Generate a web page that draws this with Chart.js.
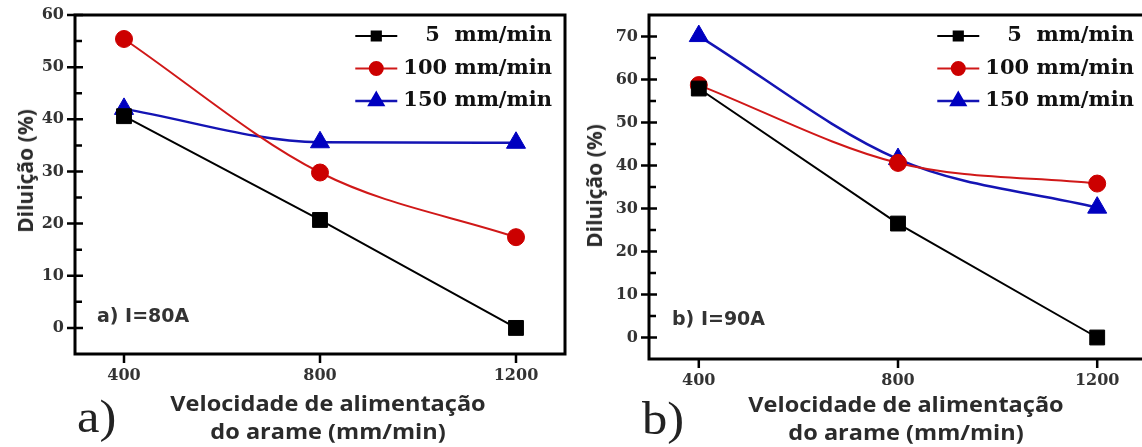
<!DOCTYPE html>
<html>
<head>
<meta charset="utf-8">
<script src="https://cdn.jsdelivr.net/npm/chart.js@4"></script>
<style>
  html, body { margin: 0; padding: 0; background: #fff; overflow: hidden; }
  body { width: 1142px; height: 447px; position: relative; }
  canvas { position: absolute; top: 0; }
  .txt { position: absolute; white-space: nowrap; color: #2b2b2b; }
  .ytitle { font: bold 21px "Open Sans", sans-serif; transform: translate(-50%, -50%) rotate(-90deg); }
  .xtitle { font: bold 21px "Open Sans", sans-serif; transform: translate(-50%, -50%) scaleX(1.12); text-align: center; line-height: 28px; }
  .cond { font: bold 19px "DejaVu Sans", sans-serif; transform: translateY(-50%); color: #333; }
  .tag { font: 46px "Liberation Serif", serif; transform: translateY(-50%) scaleX(1.1); transform-origin: left center; color: #222; }
</style>
</head>
<body>
<canvas id="chartA" width="580" height="447" style="left:0;"></canvas>
<canvas id="chartB" width="573" height="447" style="left:574px;"></canvas>

<div class="txt ytitle" style="left:25px; top:171px;">Diluição (%)</div>
<div class="txt ytitle" style="left:594px; top:186px;">Diluição (%)</div>
<div class="txt xtitle" style="left:328px; top:417px;">Velocidade de alimentação<br>do arame (mm/min)</div>
<div class="txt xtitle" style="left:906px; top:418px;">Velocidade de alimentação<br>do arame (mm/min)</div>
<div class="txt cond" style="left:97px; top:315px;">a) I=80A</div>
<div class="txt cond" style="left:672px; top:318px;">b) I=90A</div>
<div class="txt tag" style="left:77px; top:416px;">a)</div>
<div class="txt tag" style="left:642px; top:418px;">b)</div>

<script>
// wire feed speed (mm/min)
const speeds = [400, 800, 1200];
const xTicks = [400, 800, 1200];

// series labels (travel speed)
const seriesLabels = ['5  mm/min', '100 mm/min', '150 mm/min'];

// dilution (%) at I = 80 A
const a5 = [40.6, 20.7, 0.0];
const a100 = [55.4, 29.8, 17.4];
const a150 = [42.0, 35.6, 35.5];
const yTicksA = [0, 10, 20, 30, 40, 50, 60];

// dilution (%) at I = 90 A
const b5 = [57.9, 26.5, 0.0];
const b100 = [58.7, 40.6, 35.8];
const b150 = [70.1, 41.5, 30.2];
const yTicksB = [0, 10, 20, 30, 40, 50, 60, 70];

const tickFont = { family: 'DejaVu Serif', size: 16, weight: 'bold' };

// box around the plot plus inward/outward tick marks
const frameTicks = {
  id: 'frameTicks',
  afterDatasetsDraw(chart) {
    const { ctx, chartArea: a, scales: { x, y } } = chart;
    ctx.save();
    ctx.strokeStyle = '#000';
    ctx.lineWidth = 3;
    ctx.strokeRect(a.left, a.top, a.right - a.left, a.bottom - a.top);
    ctx.lineWidth = 2.5;
    ctx.beginPath();
    const yt = y.ticks.map(t => t.value);
    yt.forEach(v => {
      const py = y.getPixelForValue(v);
      ctx.moveTo(a.left - 8, py);
      ctx.lineTo(a.left + 8, py);
    });
    const step = yt[1] - yt[0];
    for (let v = yt[0] - step / 2; v < y.max; v += step) {
      if (v <= y.min) continue;
      const py = y.getPixelForValue(v);
      ctx.moveTo(a.left, py);
      ctx.lineTo(a.left + 7, py);
    }
    x.ticks.forEach(t => {
      const px = x.getPixelForValue(t.value);
      ctx.moveTo(px, a.bottom);
      ctx.lineTo(px, a.bottom + 9);
    });
    ctx.stroke();
    ctx.restore();
  }
};

// legend in the upper right corner of the plot
const cornerLegend = {
  id: 'cornerLegend',
  afterDraw(chart) {
    const { ctx, chartArea: a } = chart;
    const sets = chart.data.datasets;
    ctx.save();
    ctx.font = 'bold 21px "DejaVu Serif"';
    ctx.textBaseline = 'middle';
    ctx.textAlign = 'right';
    const maxW = Math.max(...sets.map(d => ctx.measureText(d.label).width));
    const textRight = a.right - 13;
    const lineEnd = textRight - maxW - 6;
    const lineStart = lineEnd - 42;
    sets.forEach((d, i) => {
      const py = a.top + 21 + i * 32.5;
      ctx.strokeStyle = d.borderColor;
      ctx.lineWidth = d.borderWidth;
      ctx.beginPath();
      ctx.moveTo(lineStart, py);
      ctx.lineTo(lineEnd, py);
      ctx.stroke();
      ctx.fillStyle = d.pointBackgroundColor;
      ctx.strokeStyle = d.pointBorderColor;
      Chart.helpers.drawPoint(ctx, {
        pointStyle: d.pointStyle, rotation: 0, radius: d.legendRadius, borderWidth: 1
      }, (lineStart + lineEnd) / 2, py);
      ctx.fillStyle = '#111';
      ctx.fillText(d.label, textRight, py);
    });
    ctx.restore();
  }
};

function series(label, xs, ys, color, fill, style, radius, legendRadius, width, curved) {
  return {
    label: label,
    data: xs.map((x, i) => ({ x: x, y: ys[i] })),
    borderColor: color,
    borderWidth: width,
    pointBackgroundColor: fill,
    pointBorderColor: fill,
    pointBorderWidth: 1,
    pointStyle: style,
    pointRadius: radius,
    legendRadius: legendRadius,
    tension: curved ? 0.4 : 0,
    cubicInterpolationMode: curved ? 'monotone' : 'default',
    clip: false
  };
}

function makeChart(id, sets, yMin, yMax, yTicks, bottomH, rightPad) {
  return new Chart(document.getElementById(id), {
    type: 'line',
    data: { datasets: sets },
    options: {
      responsive: false,
      animation: false,
      layout: { autoPadding: false, padding: { top: 15, right: rightPad, left: 0, bottom: 0 } },
      plugins: { legend: { display: false }, tooltip: { enabled: false } },
      scales: {
        x: {
          type: 'linear', min: 300, max: 1300,
          afterBuildTicks: s => { s.ticks = xTicks.map(v => ({ value: v })); },
          afterFit: s => { s.height = bottomH; s.paddingLeft = 0; s.paddingRight = 0; },
          grid: { display: false, drawTicks: false },
          border: { display: false },
          ticks: { font: tickFont, color: '#333', padding: 12, callback: v => String(v) }
        },
        y: {
          min: yMin, max: yMax,
          afterBuildTicks: s => { s.ticks = yTicks.map(v => ({ value: v })); },
          afterFit: s => { s.width = 75; s.paddingTop = 0; s.paddingBottom = 0; },
          grid: { display: false, drawTicks: false },
          border: { display: false },
          ticks: { font: tickFont, color: '#333', padding: 11, callback: v => String(v) }
        }
      }
    },
    plugins: [frameTicks, cornerLegend]
  });
}

const black = '#000000', red = '#d01818', blue = '#1414b4';
const redFill = '#cc0000', blueFill = '#0000c0';

makeChart('chartA', [
  series(seriesLabels[0], speeds, a5, black, black, 'rect', 10.5, 6.5, 2, false),
  series(seriesLabels[1], speeds, a100, red, redFill, 'circle', 8.5, 6.5, 2, true),
  series(seriesLabels[2], speeds, a150, blue, blueFill, 'triangle', 11, 8, 2.5, true)
], -5, 60, yTicksA, 93, 15);

makeChart('chartB', [
  series(seriesLabels[0], speeds, b5, black, black, 'rect', 10.5, 6.5, 2, false),
  series(seriesLabels[1], speeds, b100, red, redFill, 'circle', 8.5, 6.5, 2, true),
  series(seriesLabels[2], speeds, b150, blue, blueFill, 'triangle', 11, 8, 2.5, true)
], -5, 75, yTicksB, 88, 0);
</script>
</body>
</html>
